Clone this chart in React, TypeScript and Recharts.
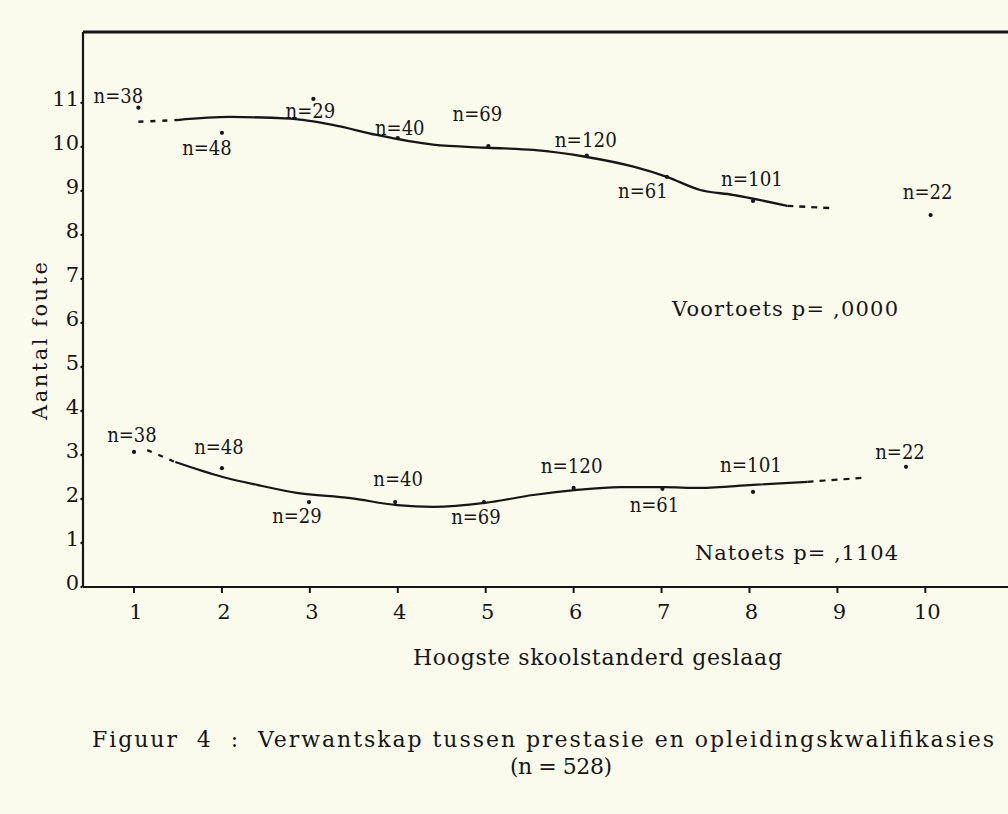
import { ComposedChart, Line, Scatter, XAxis, YAxis, ReferenceLine } from 'recharts';

const xTicks = [1, 2, 3, 4, 5, 6, 7, 8, 9, 10];
const yTicks = [0, 1, 2, 3, 4, 5, 6, 7, 8, 9, 10, 11];
const groupSizes = [38, 48, 29, 40, 69, 120, 61, 101, 22];

// dots as they sit on the scan (standard 9 has no group)
const voorX = [1.05, 2.0, 3.04, 4.0, 5.03, 6.15, 7.06, 8.04, 10.06];
const voorY = [10.89, 10.32, 11.09, 10.2, 10.02, 9.8, 9.32, 8.77, 8.45];
const naX = [1.0, 2.0, 2.99, 3.97, 4.98, 6.0, 7.01, 8.04, 9.78];
const naY = [3.07, 2.7, 1.93, 1.93, 1.93, 2.25, 2.23, 2.16, 2.73];

// hand drawn trend curves
const voorTrendX = [1.05, 1.49, 2.09, 2.77, 3.26, 3.76, 4.4, 5.03, 5.54, 6.15, 6.68, 7.06, 7.44, 7.81, 8.43, 8.92];
const voorTrendY = [10.57, 10.61, 10.68, 10.64, 10.5, 10.27, 10.05, 9.98, 9.93, 9.77, 9.55, 9.32, 9.02, 8.91, 8.66, 8.61];
const naTrendX = [1.15, 1.47, 2.01, 2.4, 2.85, 3.46, 3.99, 4.4, 4.99, 5.54, 6.01, 6.53, 7.02, 7.44, 8.04, 8.66, 9.29];
const naTrendY = [3.11, 2.84, 2.5, 2.32, 2.14, 2.02, 1.86, 1.82, 1.91, 2.09, 2.2, 2.27, 2.27, 2.25, 2.32, 2.39, 2.48];

// where the typed "n=" sits relative to its dot (px)
const voorLabelOffset = [[-20, -12], [-15, 15], [-3, 12], [2, -10], [-11, -32], [-1, -16], [-24, 14], [-1, -22], [-3, -23]];
const naLabelOffset = [[-2, -17], [-3, -21], [-12, 14], [3, -23], [-8, 15], [-2, -22], [-8, 16], [-2, -27], [-6, -15]];

const INK = '#161616';
const FONT = '"DejaVu Serif", serif';
const Y_TOP = 12.61;

const pts = (xs: number[], ys: number[]) => xs.map((x, i) => ({ x, y: ys[i] }));

const voorDots = voorX.map((x, i) => ({ x, y: voorY[i], n: groupSizes[i], dx: voorLabelOffset[i][0], dy: voorLabelOffset[i][1] }));
const naDots = naX.map((x, i) => ({ x, y: naY[i], n: groupSizes[i], dx: naLabelOffset[i][0], dy: naLabelOffset[i][1] }));

const voorTrend = pts(voorTrendX, voorTrendY);
const naTrend = pts(naTrendX, naTrendY);

function DotWithLabel(props: any) {
  const { cx, cy, payload } = props;
  const label = `n=${payload.n}`;
  return (
    <g>
      <circle cx={cx} cy={cy} r={2.1} fill={INK} />
      <text
        x={cx + payload.dx}
        y={cy + payload.dy}
        textAnchor="middle"
        dominantBaseline="central"
        fontFamily={FONT}
        fontSize={21}
        fill={INK}
        textLength={label.length * 12.4}
        lengthAdjust="spacingAndGlyphs"
      >
        {label}
      </text>
    </g>
  );
}

function YTick(props: any) {
  const { x, y, payload } = props;
  return (
    <g>
      <text x={x - 1} y={y - 4} textAnchor="end" dominantBaseline="central" fontFamily={FONT} fontSize={21} fill={INK}>
        {payload.value}
      </text>
      <circle cx={x + 1.5} cy={y} r={1.2} fill={INK} />
    </g>
  );
}

function XTick(props: any) {
  const { x, y, payload } = props;
  return (
    <text x={x + 2} y={y + 15} textAnchor="middle" dominantBaseline="central" fontFamily={FONT} fontSize={21} fill={INK}>
      {payload.value}
    </text>
  );
}

const textStyle = { fontFamily: FONT, fill: INK } as const;

export default function App() {
  return (
    <div style={{ position: 'absolute', left: 0, top: 0, width: 1008, height: 814, background: '#fbfbed' }}>
      <ComposedChart width={1008} height={814} margin={{ top: 32, right: 0, left: 38, bottom: 187 }}>
        <XAxis
          type="number"
          dataKey="x"
          domain={[0.42, 10.94]}
          ticks={xTicks}
          allowDataOverflow
          height={40}
          tick={<XTick />}
          tickSize={6}
          tickMargin={4}
          tickLine={{ stroke: INK, strokeWidth: 2 }}
          axisLine={{ stroke: INK, strokeWidth: 2.2 }}
        />
        <YAxis
          type="number"
          dataKey="y"
          domain={[0, Y_TOP]}
          ticks={yTicks}
          allowDataOverflow
          width={45}
          tick={<YTick />}
          tickSize={0}
          tickMargin={3}
          tickLine={false}
          axisLine={{ stroke: INK, strokeWidth: 2.2 }}
        />
        <ReferenceLine y={Y_TOP} stroke={INK} strokeWidth={3} ifOverflow="extendDomain" />

        <Line data={voorTrend.slice(0, 2)} dataKey="y" type="monotone" stroke={INK} strokeWidth={2.4} strokeDasharray="5 7" dot={false} isAnimationActive={false} />
        <Line data={voorTrend.slice(1, 15)} dataKey="y" type="monotone" stroke={INK} strokeWidth={2.3} dot={false} isAnimationActive={false} />
        <Line data={voorTrend.slice(14)} dataKey="y" type="monotone" stroke={INK} strokeWidth={2.4} strokeDasharray="6 6" dot={false} isAnimationActive={false} />

        <Line data={naTrend.slice(0, 2)} dataKey="y" type="monotone" stroke={INK} strokeWidth={2.2} strokeDasharray="5 7" dot={false} isAnimationActive={false} />
        <Line data={naTrend.slice(1, 16)} dataKey="y" type="monotone" stroke={INK} strokeWidth={2.2} dot={false} isAnimationActive={false} />
        <Line data={naTrend.slice(15)} dataKey="y" type="monotone" stroke={INK} strokeWidth={2.2} strokeDasharray="6 6" dot={false} isAnimationActive={false} />

        <Scatter data={voorDots} dataKey="y" shape={<DotWithLabel />} isAnimationActive={false} />
        <Scatter data={naDots} dataKey="y" shape={<DotWithLabel />} isAnimationActive={false} />
      </ComposedChart>

      <svg width={1008} height={814} style={{ position: 'absolute', left: 0, top: 0, pointerEvents: 'none' }}>
        <text x={40} y={341} transform="rotate(-90 40 341)" textAnchor="middle" dominantBaseline="central" fontSize={21} textLength={158} {...textStyle}>
          Aantal foute
        </text>
        <text x={898} y={309} textAnchor="end" dominantBaseline="central" fontSize={21} textLength={226} {...textStyle}>
          Voortoets p=  ,0000
        </text>
        <text x={898} y={553} textAnchor="end" dominantBaseline="central" fontSize={21} textLength={203} {...textStyle}>
          Natoets p=  ,1104
        </text>
        <text x={413} y={657} dominantBaseline="central" fontSize={22} textLength={369} {...textStyle}>
          Hoogste skoolstanderd geslaag
        </text>
        <text x={92} y={739} dominantBaseline="central" fontSize={22} textLength={902} style={{ whiteSpace: 'pre' }} {...textStyle}>
          {'Figuur  4  :  Verwantskap tussen prestasie en opleidingskwalifikasies'}
        </text>
        <text x={510} y={766} dominantBaseline="central" fontSize={22} textLength={102} style={{ whiteSpace: 'pre' }} {...textStyle}>
          {'(n = 528)'}
        </text>
      </svg>
    </div>
  );
}
